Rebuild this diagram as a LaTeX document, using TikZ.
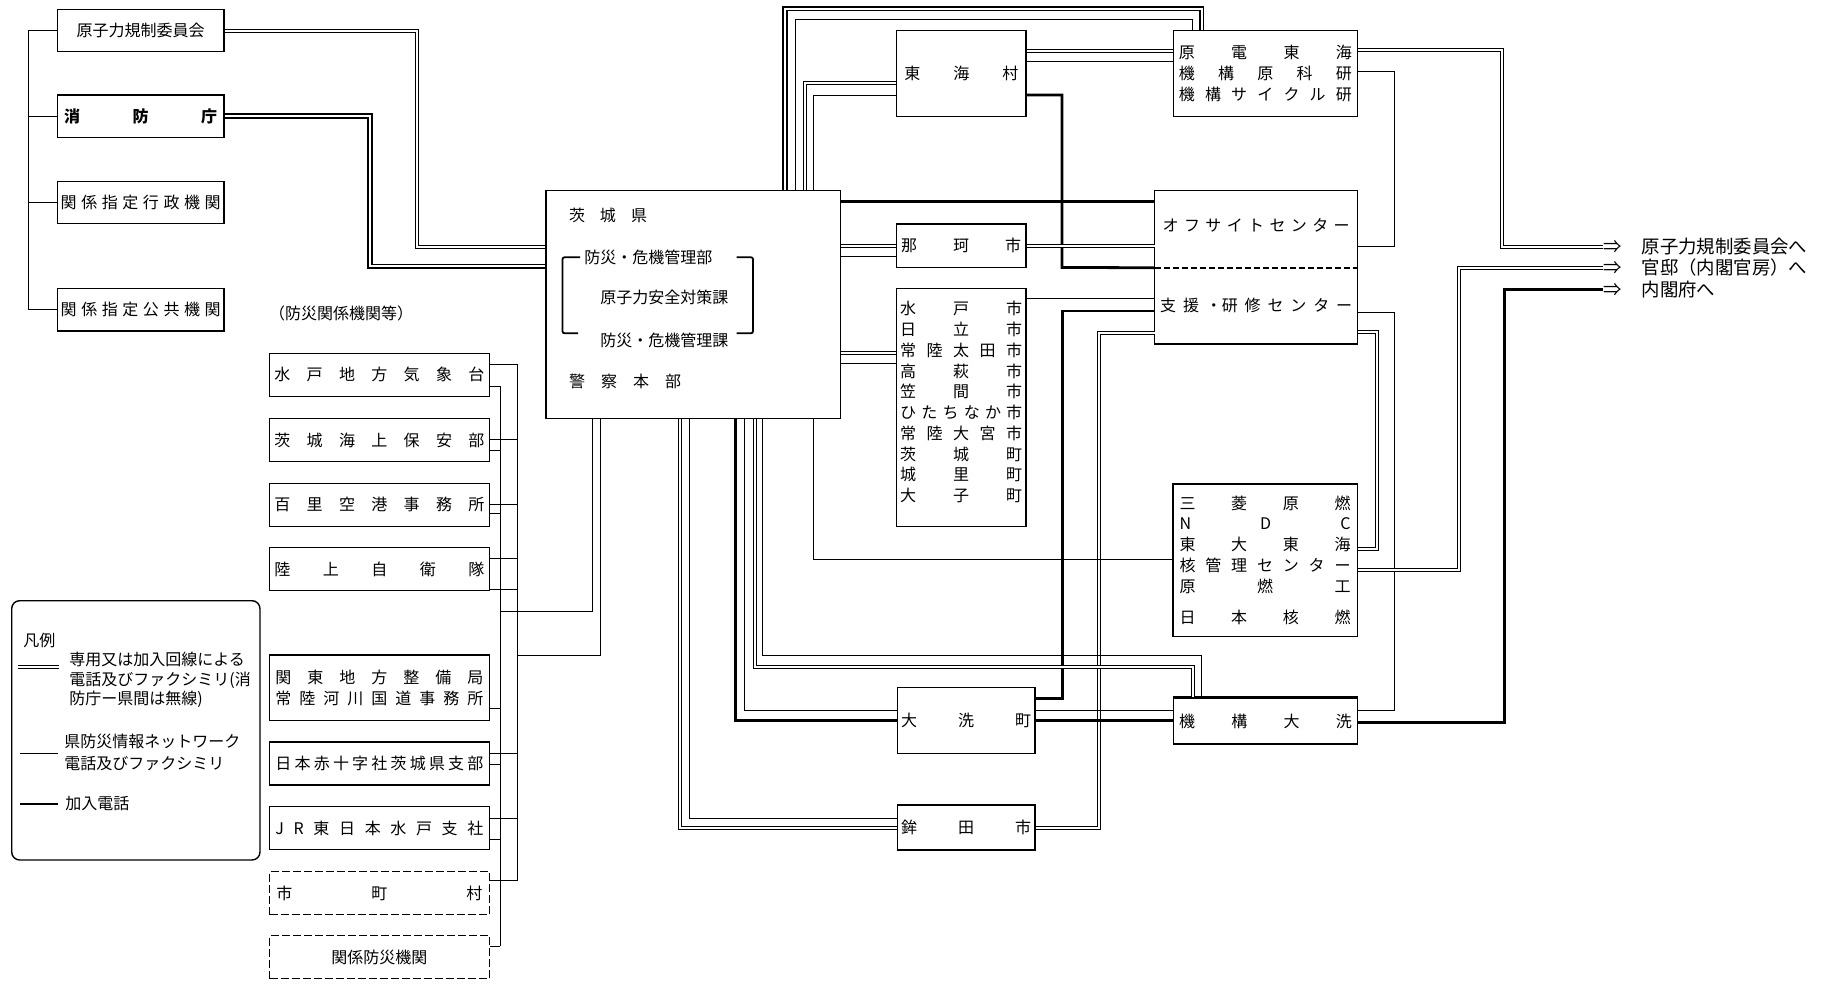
\documentclass[tikz,border=0pt]{standalone}
\usepackage{fontspec}
\setmainfont{Noto Sans CJK JP}
\tikzset{box/.style={draw, line width=0.7pt, inner sep=0pt, align=center},
    dbox/.style={box, dash pattern=on 4pt off 1.5pt},
    kuni/.style={box, minimum width=83.25pt, minimum height=21.2pt},
    kikan/.style={box, minimum width=109.8pt, minimum height=21.5pt},
    shi/.style={box, minimum width=64.75pt},
    jigyo/.style={box, minimum width=92.2pt},
    hee/.style={anchor=west, inner sep=0pt, font=\fontsize{9.2}{11}\selectfont},
    thn/.style={line width=0.5pt},
    hvy/.style={line width=1.4pt},
    dbl/.style={double, line width=0.5pt, double distance=1pt},
    dblh/.style={double, line width=0.8pt, double distance=1pt},
    }
% spread the letters of #2 over width #1
\newcommand\jus[2]{\makebox[#1][s]{\jusfirst#2\relax}}
\def\jusfirst#1{#1\jusrest}
\def\jusrest#1{\ifx\relax#1\else\hfill#1\expandafter\jusrest\fi}

\begin{document}
\begin{tikzpicture}[x=0.5pt, y=-0.5pt, font=\fontsize{8}{10}\selectfont]
	\useasboundingbox (0,0) rectangle (1821,985);
	% kuni
	\node[kuni] (gensi) at (140.7,30.5) {原子力規制委員会};
	\node[kuni] (shobo) at (140.7,116) {\bfseries\jus{76.5pt}{消防庁}};
	\node[kuni] (gyosei) at (140.7,202.5) {\jus{80pt}{関係指定行政機関}};
	\node[kuni] (kokyo) at (140.7,309.7) {\jus{80pt}{関係指定公共機関}};
	\node[inner sep=0pt] (bousaitou) at (341,313.3) {（防災関係機関等）};
	% bousai kikan
	\node[kikan] (kisho) at (379.4,374.7) {\jus{105pt}{水戸地方気象台}};
	\node[kikan] (kaiho) at (379.4,440) {\jus{105pt}{茨城海上保安部}};
	\node[kikan] (hyakuri) at (379.4,504.7) {\jus{105pt}{百里空港事務所}};
	\node[kikan] (jieitai) at (379.4,569.2) {\jus{105pt}{陸上自衛隊}};
	\node[kikan, minimum height=32.85pt, font=\fontsize{8}{10.35}\selectfont] (kanto) at (379.4,687.8)
		{\jus{104pt}{関東地方整備局}\\\jus{104pt}{常陸河川国道事務所}};
	\node[kikan] (sekijuji) at (379.4,763.3) {\jus{104pt}{日本赤十字社茨城県支部}};
	\node[kikan] (jr) at (379.4,828) {\jus{104pt}{JR東日本水戸支社}};
	\node[kikan, dbox] (shichoson) at (379.4,893.2) {\jus{103pt}{市町村}};
	\node[kikan, dbox] (kankei) at (379.4,957.2) {関係防災機関};
	% hanrei
	\node[box, rounded corners=4pt, minimum width=124.15pt, minimum height=129.65pt] (hanrei) at (135.85,730.35) {};
	\node[anchor=west, inner sep=0pt] (hanreittl) at (23,640) {凡例};
	\node[anchor=west, inner sep=0pt, align=left, font=\fontsize{8}{9.8}\selectfont] (hanrei1) at (69,680)
		{専用又は加入回線による\\電話及びファクシミリ(消\\防庁ー県間は無線)};
	\node[anchor=west, inner sep=0pt, align=left, font=\fontsize{8}{10.8}\selectfont] (hanrei2) at (64,752.5)
		{県防災情報ネットワーク\\電話及びファクシミリ};
	\node[anchor=west, inner sep=0pt] (hanrei3) at (65,804) {加入電話};
	\draw[dbl] (18.3,667) -- (59.3,667);
	\draw[thn] (20,753.3) -- (58.3,753.3);
	\draw[line width=0.8pt] (20,804) -- (58.3,804);
	% ibaraki-ken
	\node[box, minimum width=147.1pt, minimum height=113.8pt] (ibk) at (693.1,304.5) {};
	\node[inner sep=0pt] (ibkname) at (608,215) {\jus{39pt}{茨城県}};
	\node[anchor=west, inner sep=0pt] (ibkbu) at (584,257.3) {防災・危機管理部};
	\node[anchor=west, inner sep=0pt] (ibkka1) at (600,297.7) {原子力安全対策課};
	\node[anchor=west, inner sep=0pt] (ibkka2) at (600,340) {防災・危機管理課};
	\node[inner sep=0pt] (ibkkei) at (625,381.7) {\jus{56pt}{警察本部}};
	\draw[line width=0.9pt, rounded corners=1pt] (580,257.3) -- (562.5,257.3) -- (562.5,333.3) -- (578,333.3);
	\draw[line width=0.9pt, rounded corners=1pt] (736.6,257.3) -- (753,257.3) -- (753,333.3) -- (736.6,333.3);
	% shichoson
	\node[shi, minimum height=43pt] (tokai) at (961.35,73.7) {\jus{57pt}{東海村}};
	\node[shi, minimum height=21.65pt] (naka) at (961.2,245.65) {\jus{60pt}{那珂市}};
	\node[shi, minimum height=119.2pt, font=\fontsize{8}{10.37}\selectfont] (mito) at (961.2,407.5)
		{\jus{61pt}{水戸市}\\\jus{61pt}{日立市}\\\jus{61pt}{常陸太田市}\\\jus{61pt}{高萩市}\\\jus{61pt}{笠間市}\\
		\jus{61pt}{ひたちなか市}\\\jus{61pt}{常陸大宮市}\\\jus{61pt}{茨城町}\\\jus{61pt}{城里町}\\\jus{61pt}{大子町}\rule[-6pt]{0pt}{0pt}};
	\node[shi, minimum width=68.9pt, minimum height=33pt] (oarai) at (966.1,720.3) {\jus{65pt}{大洗町}};
	\node[shi, minimum width=68.9pt, minimum height=22.5pt] (hokota) at (966.1,827.5) {\jus{65pt}{鉾田市}};
	% jigyosho
	\node[jigyo, minimum height=43pt, font=\fontsize{8}{10.4}\selectfont] (gentoku) at (1265.4,73.7)
		{\jus{86.5pt}{原電東海}\\\jus{86.5pt}{機構原科研}\\\jus{86.5pt}{機構サイクル研}};
	\node[inner sep=0pt, minimum width=101.15pt, minimum height=38.2pt] (off) at (1256.15,229.2)
		{\jus{93.5pt}{オフサイトセンター}\rule[-4pt]{0pt}{0pt}};
	\node[inner sep=0pt, minimum width=101.15pt, minimum height=38.1pt] (sup) at (1256.15,305.5)
		{\jus{96pt}{支援{・研}修センター}};
	\draw[line width=0.7pt] (off.north west) rectangle (sup.south east);
	\draw[line width=0.9pt, dash pattern=on 3pt off 1.5pt] (off.south west) -- (off.south east);
	\node[jigyo, minimum height=76.25pt, font=\fontsize{8}{10.4}\selectfont] (mitsu) at (1265,560.35)
		{\jus{85.5pt}{三菱原燃}\\\jus{85.5pt}{NDC}\\\jus{85.5pt}{東大東海}\\\jus{85.5pt}{核管理センター}\\
		\jus{85.5pt}{原燃工}\\[5.4pt]\jus{85.5pt}{日本核燃}};
	\node[jigyo, minimum height=23pt] (kikooarai) at (1265.5,721) {\jus{86.3pt}{機構大洗}};
	\draw[hvy] (kikooarai.north west) -- (kikooarai.north east);
	% kuni e
	\node[hee] (out1) at (1603,246.5) {⇒\hspace{10pt}原子力規制委員会へ};
	\node[hee] (out2) at (1603,268) {⇒\hspace{10pt}官邸（内閣官房）へ};
	\node[hee] (out3) at (1603,289.5) {⇒\hspace{10pt}内閣府へ};
	\coordinate (xa) at (500,0);
	\coordinate (xb) at (517.1,0);

	% kuni - ken
	\draw[thn] (gensi.west) -| (28.7,309.7) -- (kokyo.west);
	\draw[thn] (shobo.west) -- (shobo.west -| 28.7,0);
	\draw[thn] (gyosei.west) -- (gyosei.west -| 28.7,0);
	\draw[dbl] (gensi.east) -| (417,246.7) -- (ibk.west |- 0,246.7);
	\draw[dblh] (shobo.east) -| (370,266.3) -- (ibk.west |- 0,266.3);
	% bousai kikan - ken
	\draw[thn] (xb |- 0,364) -- (xb |- 0,880.7);
	\draw[thn] (xa |- 0,386) -- (xa |- 0,946);
	\draw[thn] (kisho.east |- 0,364) -- (xb |- 0,364);
	\draw[thn] (kisho.east |- 0,386) -- (xa |- 0,386);
	\draw[thn] (kaiho.east |- 0,439.3) -- (xb |- 0,439.3);
	\draw[thn] (kaiho.east |- 0,450.7) -- (xa |- 0,450.7);
	\draw[thn] (hyakuri.east |- 0,504.7) -- (xb |- 0,504.7);
	\draw[thn] (hyakuri.east |- 0,513.3) -- (xa |- 0,513.3);
	\draw[thn] (jieitai.east |- 0,558.7) -- (xb |- 0,558.7);
	\draw[thn] (jieitai.east |- 0,589.3) -- (xb |- 0,589.3);
	\draw[thn] (kanto.east |- 0,708.3) -- (xa |- 0,708.3);
	\draw[thn] (sekijuji.east |- 0,753.3) -- (xb |- 0,753.3);
	\draw[thn] (sekijuji.east |- 0,764) -- (xa |- 0,764);
	\draw[thn] (jr.east |- 0,818.3) -- (xb |- 0,818.3);
	\draw[thn] (jr.east |- 0,839.3) -- (xa |- 0,839.3);
	\draw[thn] (shichoson.east |- 0,880.7) -- (xb |- 0,880.7);
	\draw[thn] (kankei.east |- 0,946) -- (xa |- 0,946);
	\draw[thn] (ibk.south -| 592.4,0) |- (xa |- 0,611.7);
	\draw[thn] (ibk.south -| 600.4,0) |- (xb |- 0,655);
	% ken - top
	\draw[dblh] (ibk.north -| 785,0) |- (1201.5,8.5) -- (gentoku.north -| 1201.5,0);
	\draw[thn] (ibk.north -| 795.5,0) |- (1192.7,19.3) -- (gentoku.north -| 1192.7,0);
	\draw[dbl] (ibk.north -| 804.5,0) |- (tokai.west |- 0,82.5);
	\draw[thn] (ibk.north -| 813.8,0) |- (tokai.west |- 0,95.7);
	\draw[dbl] (tokai.east |- 0,51) -- (gentoku.west |- 0,51);
	\draw[thn] (tokai.east |- 0,61.7) -- (gentoku.west |- 0,61.7);
	\draw[hvy] (tokai.east |- 0,95) -| (1062,267.4) -- (off.south west);
	% ken - right
	\draw[hvy] (ibk.east |- 0,201.7) -- (off.west |- 0,201.7);
	\draw[dbl] (ibk.east |- 0,246.2) -- (naka.west |- 0,246.2);
	\draw[thn] (ibk.east |- 0,256.7) -- (naka.west |- 0,256.7);
	\draw[dbl] (naka.east |- 0,246.3) -- (off.west |- 0,246.3);
	\draw[dbl] (ibk.east |- 0,353) -- (mito.west |- 0,353);
	\draw[thn] (ibk.east |- 0,363.3) -- (mito.west |- 0,363.3);
	\draw[thn] (mito.east |- 0,298.3) -- (sup.west |- 0,298.3);
	\draw[hvy] (sup.west |- 0,311) -| (1062.5,698.3) -- (oarai.east |- 0,698.3);
	\draw[dbl] (sup.west |- 0,333) -| (1098.7,828.3) -- (hokota.east |- 0,828.3);
	% ken - bottom
	\draw[dbl] (ibk.south -| 679.7,0) |- (hokota.west |- 0,828.3);
	\draw[thn] (ibk.south -| 689.4,0) |- (hokota.west |- 0,818.3);
	\draw[hvy] (ibk.south -| 735.3,0) |- (oarai.west |- 0,720.5);
	\draw[thn] (ibk.south -| 744,0) |- (oarai.west |- 0,710);
	\draw[dbl] (ibk.south -| 754.6,0) |- (1193,666.7) -- (kikooarai.north -| 1193,0);
	\draw[thn] (ibk.south -| 762.3,0) |- (1201.4,655) -- (kikooarai.north -| 1201.4,0);
	\draw[thn] (ibk.south -| 813.8,0) |- (mitsu.west |- 0,559);
	\draw[thn] (oarai.east |- 0,710) -- (kikooarai.west |- 0,710);
	\draw[hvy] (oarai.east |- 0,720.5) -- (kikooarai.west |- 0,720.5);
	% jigyosho - right
	\draw[thn] (gentoku.east |- 0,71.7) -| (1394.3,246.2) -- (off.east |- 0,246.2);
	\draw[thn] (kikooarai.east |- 0,710.6) -| (1394.3,312) -- (sup.east |- 0,312);
	\draw[dbl] (sup.east |- 0,332.4) -| (1376.7,549.2) -- (mitsu.east |- 0,549.2);
	\draw[dbl] (gentoku.east |- 0,50) -| (1501.5,246.5) -- (out1.west);
	\draw[dbl] (mitsu.east |- 0,570.4) -| (1459,268) -- (out2.west);
	\draw[hvy] (kikooarai.east |- 0,722.8) -| (1504.3,289.5) -- (out3.west);
\end{tikzpicture}
\end{document}
